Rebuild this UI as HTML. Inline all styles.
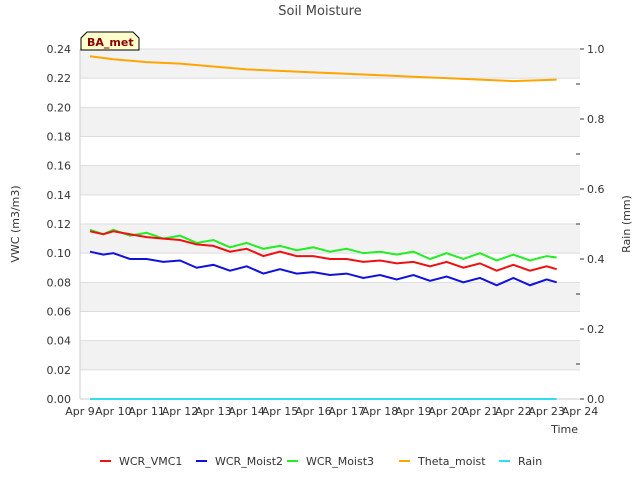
<!DOCTYPE html>
<html><head><meta charset="utf-8"><style>
body{margin:0;background:#fff;font-family:"Liberation Sans","DejaVu Sans",sans-serif}
svg text{font-family:"DejaVu Sans","Liberation Sans",sans-serif}
</style></head><body>
<svg id="c" width="640" height="480" xmlns="http://www.w3.org/2000/svg">
<rect width="640" height="480" fill="#fff"/>
<g id="bands"></g>
<text x="320" y="15" text-anchor="middle" font-size="13" fill="#444">Soil Moisture</text>
<g id="axes"></g>
<g id="series"></g>
<g>
<path d="M81,50 L81,38 L87,32 L133,32 L139,38 L139,50 Z" fill="#ffffcc" stroke="#000" stroke-width="1"/>
<text x="87" y="46" font-size="11" font-weight="bold" fill="#8b0000">BA_met</text>
</g>
<text x="19" y="224" font-size="11" fill="#333" text-anchor="middle" transform="rotate(-90 19 224)">VWC (m3/m3)</text>
<text x="630" y="224" font-size="11" fill="#333" text-anchor="middle" transform="rotate(-90 630 224)">Rain (mm)</text>
<text x="578" y="433" font-size="11" fill="#333" text-anchor="end">Time</text>
<g id="legend"></g>
</svg>
<script>
const xTicks=[9,10,11,12,13,14,15,16,17,18,19,20,21,22,23,24];
const yTicks=[0,0.02,0.04,0.06,0.08,0.10,0.12,0.14,0.16,0.18,0.20,0.22,0.24];
const y2Ticks=[0,0.2,0.4,0.6,0.8,1.0];
const times=[9.3,9.7,10,10.5,11,11.5,12,12.5,13,13.5,14,14.5,15,15.5,16,16.5,17,17.5,18,18.5,19,19.5,20,20.5,21,21.5,22,22.5,23,23.3];
const vmc1=[0.115,0.113,0.115,0.113,0.111,0.110,0.109,0.106,0.105,0.101,0.103,0.098,0.101,0.098,0.098,0.096,0.096,0.094,0.095,0.093,0.094,0.091,0.094,0.090,0.093,0.088,0.092,0.088,0.091,0.089];
const moist2=[0.101,0.099,0.100,0.096,0.096,0.094,0.095,0.090,0.092,0.088,0.091,0.086,0.089,0.086,0.087,0.085,0.086,0.083,0.085,0.082,0.085,0.081,0.084,0.080,0.083,0.078,0.083,0.078,0.082,0.080];
const moist3=[0.116,0.113,0.116,0.112,0.114,0.110,0.112,0.107,0.109,0.104,0.107,0.103,0.105,0.102,0.104,0.101,0.103,0.100,0.101,0.099,0.101,0.096,0.100,0.096,0.100,0.095,0.099,0.095,0.098,0.097];
const thetaTimes=[9.3,10,11,12,13,14,15,16,17,18,19,20,21,22,23.3];
const theta=[0.235,0.233,0.231,0.230,0.228,0.226,0.225,0.224,0.223,0.222,0.221,0.220,0.219,0.218,0.219];
const rainTimes=[9.3,23.3];
const rain=[0,0];
const X0=80,X1=580,Y0=399,Y1=49;
const xs=d=>X0+(d-9)/(24-9)*(X1-X0);
const ys=v=>Y0-v/0.24*(Y0-Y1);
const y2s=v=>Y0-v*(Y0-Y1);
const NS="http://www.w3.org/2000/svg";
function mk(t,a,p){const e=document.createElementNS(NS,t);for(const k in a)e.setAttribute(k,a[k]);p.appendChild(e);return e;}
const bands=document.getElementById('bands'),axes=document.getElementById('axes'),ser=document.getElementById('series'),leg=document.getElementById('legend');
for(let i=0;i<yTicks.length-1;i++){
 if(i%2==1){const r=mk('rect',{x:X0,y:ys(yTicks[i+1]),width:X1-X0,height:ys(yTicks[i])-ys(yTicks[i+1]),fill:'#f2f2f2'},bands);
 
 }
}
yTicks.forEach(v=>{
 mk('line',{x1:X0,x2:X1,y1:ys(v),y2:ys(v),stroke:'#ddd','stroke-width':1},axes);
 const t=mk('text',{x:X0-9,y:ys(v)+4,'text-anchor':'end','font-size':11,fill:'#333'},axes);t.textContent=v.toFixed(2);
 
 
});
y2Ticks.forEach(v=>{
 mk('line',{x1:X1,x2:X1+4,y1:y2s(v),y2:y2s(v),stroke:'#333'},axes);
 const t=mk('text',{x:X1+7,y:y2s(v)+4,'font-size':11,fill:'#333'},axes);t.textContent=v.toFixed(1);
 
 
});
for(let i=0;i<5;i++){const v=0.1+i*0.2;mk('line',{x1:X1-4,x2:X1,y1:y2s(v),y2:y2s(v),stroke:'#333'},axes);}
mk('line',{x1:X0,x2:X0,y1:Y1,y2:Y0,stroke:'#ccc'},axes);
mk('line',{x1:X0,x2:X1,y1:Y0,y2:Y0,stroke:'#ccc'},axes);
xTicks.forEach(d=>{
 const t=mk('text',{x:xs(d),y:415,'text-anchor':'middle','font-size':11,fill:'#333'},axes);t.textContent='Apr '+d;
 
 
});
function line(tx,vals,col,name,sc){
 const p=mk('polyline',{points:tx.map((t,i)=>xs(t)+','+sc(vals[i])).join(' '),fill:'none',stroke:col,'stroke-width':2},ser);
 
 
}
line(rainTimes,rain,'#33ddee','rain-line',y2s);
line(thetaTimes,theta,'#ffa500','theta-moist-line',ys);
line(times,moist3,'#22ee22','wcr-moist3-line',ys);
line(times,vmc1,'#ee1111','wcr-vmc1-line',ys);
line(times,moist2,'#1111dd','wcr-moist2-line',ys);
const legItems=[['WCR_VMC1','#ee1111',100],['WCR_Moist2','#1111dd',196],['WCR_Moist3','#22ee22',287],['Theta_moist','#ffa500',399],['Rain','#33ddee',499]];
legItems.forEach(([n,c,x])=>{
 const g=mk('g',{},leg);
 
 
 mk('line',{x1:x,x2:x+11,y1:461,y2:461,stroke:c,'stroke-width':2},g);
 const t=mk('text',{x:x+19,y:465,'font-size':11,fill:'#333'},g);t.textContent=n;
});
</script>
</body></html>
